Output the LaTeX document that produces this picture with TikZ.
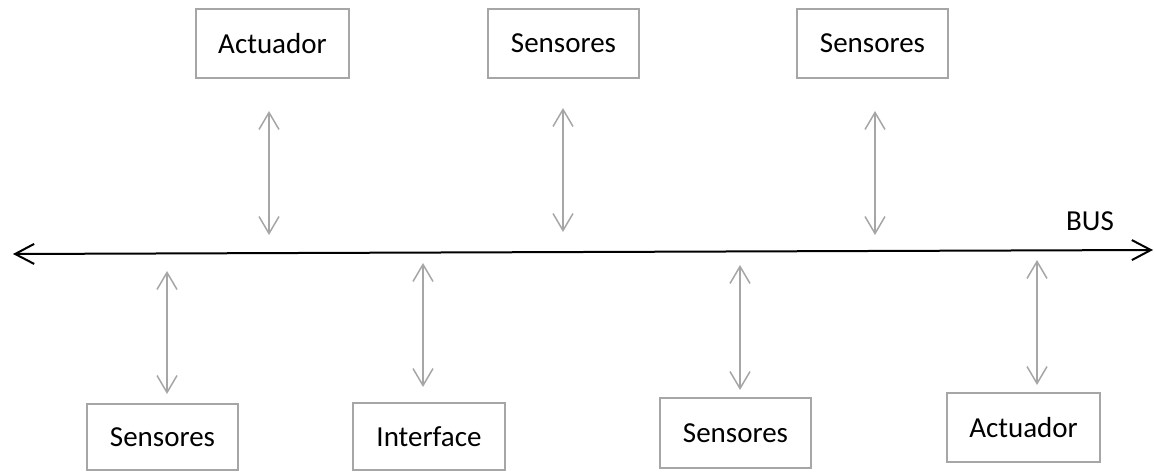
\documentclass[tikz,border=0pt]{standalone}
\usepackage{fontspec}
\setmainfont{Carlito}
\usetikzlibrary{arrows.meta}
\definecolor{linegray}{HTML}{A6A6A6}
\tikzset{
  unitbox/.style={draw=linegray, line width=2pt, rectangle, inner sep=0pt,
    font=\fontsize{29}{35}\selectfont, text=black},
  link/.style={draw=linegray, line width=1.5pt,
    {Straight Barb[length=17pt,width=20pt]}-{Straight Barb[length=17pt,width=20pt]}},
  busline/.style={draw=black, line width=2pt,
    {Straight Barb[length=19pt,width=20pt]}-{Straight Barb[length=19pt,width=20pt]}}
}
\begin{document}
\begin{tikzpicture}[x=1pt,y=-1pt]
\useasboundingbox (0,0) rectangle (1155,473);

% devices above the bus
\node[unitbox, minimum width=153pt, minimum height=69pt] (act1) at (272.5,43.5) {Actuador};
\node[unitbox, minimum width=151pt, minimum height=69pt] (sen1) at (563.5,43.5) {Sensores};
\node[unitbox, minimum width=151pt, minimum height=69pt] (sen2) at (872.5,43.5) {Sensores};

% devices below the bus
\node[unitbox, minimum width=151pt, minimum height=66pt] (sen3) at (162.5,437) {Sensores};
\node[unitbox, minimum width=152pt, minimum height=67pt] (intf) at (429,436.5) {Interface};
\node[unitbox, minimum width=151pt, minimum height=70pt] (sen4) at (735.5,433) {Sensores};
\node[unitbox, minimum width=153pt, minimum height=69pt] (act2) at (1023.5,427.5) {Actuador};

% the bus
\coordinate (busL) at (13,254);
\coordinate (busR) at (1153,250);
\draw[busline] (busL) -- (busR);
\node[font=\fontsize{29}{35}\selectfont] (buslabel) at (1090,221) {BUS};

% arrow ends
\coordinate (a1t) at (269,111);  \coordinate (a1b) at (269,235);
\coordinate (a2t) at (563,108);  \coordinate (a2b) at (563,232);
\coordinate (a3t) at (875,111);  \coordinate (a3b) at (875,235);
\coordinate (b1t) at (167,271);  \coordinate (b1b) at (167,394);
\coordinate (b2t) at (423,263);  \coordinate (b2b) at (423,387);
\coordinate (b3t) at (740,265);  \coordinate (b3b) at (740,390);
\coordinate (b4t) at (1037,260); \coordinate (b4b) at (1037,385);

\draw[link] (a1t) -- (a1b);
\draw[link] (a2t) -- (a2b);
\draw[link] (a3t) -- (a3b);
\draw[link] (b1t) -- (b1b);
\draw[link] (b2t) -- (b2b);
\draw[link] (b3t) -- (b3b);
\draw[link] (b4t) -- (b4b);
\end{tikzpicture}
\end{document}
